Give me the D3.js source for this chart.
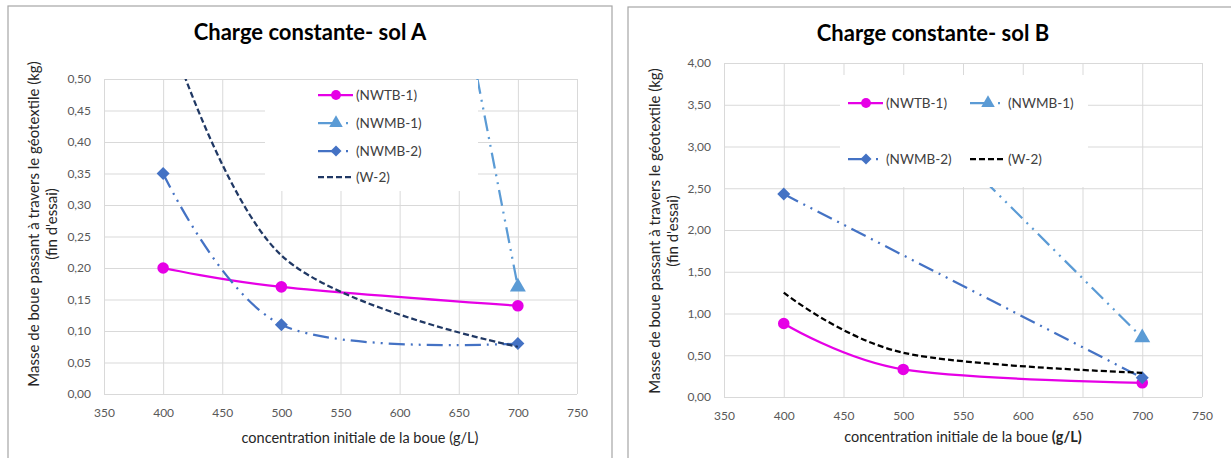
<!DOCTYPE html>
<html>
<head>
<meta charset="utf-8">
<script src="https://cdn.jsdelivr.net/npm/d3@7"></script>
<style>
  body { margin: 0; background: #fff; }
  svg { display: block; font-family: Lato, "Open Sans", sans-serif; }
</style>
</head>
<body>
<svg id="chart" width="1231" height="458"></svg>
<script>
"use strict";

/*
 * Data (missing points are null)
 */
var concentrations = [400, 500, 700];
var xTicks = [350, 400, 450, 500, 550, 600, 650, 700, 750];
var yTicksA = [0, 0.05, 0.10, 0.15, 0.20, 0.25, 0.30, 0.35, 0.40, 0.45, 0.50];
var yTicksB = [0, 0.5, 1, 1.5, 2, 2.5, 3, 3.5, 4];
var seriesNames = ["(NWTB-1)", "(NWMB-1)", "(NWMB-2)", "(W-2)"];

var solA_NWTB1 = [0.20, 0.17, 0.14];
var solA_NWMB1 = [null, 2.10, 0.17];
var solA_NWMB2 = [0.35, 0.11, 0.08];
var solA_W2    = [0.60, 0.22, 0.075];

var solB_NWTB1 = [0.88, 0.33, 0.17];
var solB_NWMB1 = [null, 3.56, 0.71];
var solB_NWMB2 = [2.43, null, 0.23];
var solB_W2    = [1.25, 0.53, 0.29];

var DASH_DOT_DOT = "16,6,2,6,2,6";

var svg = d3.select("#chart");

add(svg, {
	id: "a",
	title: "Charge constante- sol A",
	frame: [8, 6, 604, 480],
	plot: { l: 104, r: 577, t: 79, b: 394 },
	yMax: 0.5,
	yTicks: yTicksA,
	values: [solA_NWTB1, solA_NWMB1, solA_NWMB2, solA_W2],
	w2Color: "#203864",
	titlePos: [310, 32],
	yTitle: { x1: 34, x2: 52, cy: 224 },
	xTitle: [360, 438],
	boldUnit: false,
	legendBox: [265, 80, 213, 111],
	legendItems: [[318, 95], [318, 123], [318, 151], [318, 177]]
});

add(svg, {
	id: "b",
	title: "Charge constante- sol B",
	frame: [628, 7, 620, 480],
	plot: { l: 724, r: 1202, t: 63, b: 397 },
	yMax: 4,
	yTicks: yTicksB,
	values: [solB_NWTB1, solB_NWMB1, solB_NWMB2, solB_W2],
	w2Color: "#000000",
	titlePos: [933, 33],
	yTitle: { x1: 655, x2: 673, cy: 231 },
	xTitle: [963, 437],
	boldUnit: true,
	legendBox: [840, 75, 248, 112],
	legendItems: [[848, 103], [970, 103], [848, 159], [970, 159]]
});

/*
 * Draw one chart
 */
function add(svg, cfg) {

	var p = cfg.plot;
	var g = svg.append("g").attr("class", "chart-" + cfg.id);

	var x = d3.scaleLinear().domain([350, 750]).range([p.l, p.r]);
	var y = d3.scaleLinear().domain([0, cfg.yMax]).range([p.b, p.t]);
	var fmt = d3.format(".2f");

	// outer frame
	g.append("rect")
		.attr("x", cfg.frame[0]).attr("y", cfg.frame[1])
		.attr("width", cfg.frame[2]).attr("height", cfg.frame[3])
		.attr("fill", "#fff")
		.attr("stroke", "#a6a6a6")
		.attr("stroke-width", 1.2);

	// grid and tick labels
	var gx = g.append("g")
		.attr("transform", "translate(0," + p.b + ")")
		.call(d3.axisBottom(x).tickValues(xTicks).tickSize(-(p.b - p.t)).tickPadding(14).tickFormat(d3.format("d")));
	var gy = g.append("g")
		.attr("transform", "translate(" + p.l + ",0)")
		.call(d3.axisLeft(y).tickValues(cfg.yTicks).tickSize(-(p.r - p.l)).tickPadding(13)
			.tickFormat(function(d) { return fmt(d).replace(".", ","); }));

	[gx, gy].forEach(function(a) {
		a.select(".domain").remove();
		a.selectAll("line").attr("stroke", "#d9d9d9").attr("stroke-width", 1);
		a.selectAll("text").attr("fill", "#595959").style("font-size", "12px").style("font-family", "Lato, sans-serif");
	});

	// series
	var styles = [
		{ color: "#e600e6", dash: null, legendDash: null, marker: "circle" },
		{ color: "#5b9bd5", dash: DASH_DOT_DOT, legendDash: "22,6,2,6", marker: "triangle" },
		{ color: "#4472c4", dash: DASH_DOT_DOT, legendDash: "22,6,2,6", marker: "diamond" },
		{ color: cfg.w2Color, dash: "6,3", legendDash: "6,3", marker: null }
	];

	g.append("clipPath").attr("id", "clip-" + cfg.id)
		.append("rect")
		.attr("x", p.l).attr("y", p.t)
		.attr("width", p.r - p.l).attr("height", p.b - p.t + 8);

	var line = d3.line()
		.x(function(d) { return x(d.c); })
		.y(function(d) { return y(d.v); })
		.curve(d3.curveCardinal);

	var series = g.append("g").attr("clip-path", "url(#clip-" + cfg.id + ")");

	cfg.values.forEach(function(vals, i) {
		var pts = concentrations.map(function(c, k) { return { c: c, v: vals[k] }; })
			.filter(function(d) { return d.v != null; });
		var st = styles[i];

		series.append("path")
			.datum(pts)
			.attr("d", line)
			.attr("fill", "none")
			.attr("stroke", st.color)
			.attr("stroke-width", 2.25)
			.attr("stroke-dasharray", st.dash);

		if (st.marker) {
			series.selectAll(".m" + i)
				.data(pts)
				.enter().append("path")
				.attr("class", "m" + i)
				.attr("d", markerPath(st.marker, 1))
				.attr("transform", function(d) {
					return "translate(" + x(d.c) + "," + y(d.v) + ")" + (st.marker === "diamond" ? " rotate(45)" : "");
				})
				.attr("fill", st.color);
		}
	});

	// legend
	var lb = cfg.legendBox;
	g.append("rect")
		.attr("x", lb[0]).attr("y", lb[1])
		.attr("width", lb[2]).attr("height", lb[3])
		.attr("fill", "#fff");

	cfg.legendItems.forEach(function(pos, i) {
		var st = styles[i];
		var lg = g.append("g").attr("transform", "translate(" + pos[0] + "," + pos[1] + ")");
		lg.append("line")
			.attr("x1", 0).attr("x2", 35).attr("y1", 0).attr("y2", 0)
			.attr("stroke", st.color)
			.attr("stroke-width", 2.25)
			.attr("stroke-dasharray", st.legendDash);
		if (st.marker) {
			lg.append("path")
				.attr("d", markerPath(st.marker, 0.85))
				.attr("transform", "translate(18,0)" + (st.marker === "diamond" ? " rotate(45)" : ""))
				.attr("fill", st.color);
		}
		lg.append("text")
			.attr("x", 38).attr("y", 0).attr("dy", "0.35em")
			.attr("fill", "#404040")
			.style("font-size", "13.5px")
			.text(seriesNames[i]);
	});

	// titles
	g.append("text")
		.attr("x", cfg.titlePos[0]).attr("y", cfg.titlePos[1]).attr("dy", "0.35em")
		.attr("text-anchor", "middle")
		.attr("fill", "#000")
		.style("font-size", "22px").style("font-weight", "bold")
		.text(cfg.title);

	var xt = g.append("text")
		.attr("x", cfg.xTitle[0]).attr("y", cfg.xTitle[1]).attr("dy", "0.35em")
		.attr("text-anchor", "middle")
		.attr("fill", "#262626")
		.style("font-size", "14.5px");
	xt.append("tspan").text("concentration initiale de la boue ");
	xt.append("tspan").style("font-weight", cfg.boldUnit ? "bold" : "normal").text("(g/L)");

	g.append("text")
		.attr("transform", "translate(" + cfg.yTitle.x1 + "," + cfg.yTitle.cy + ") rotate(-90)")
		.attr("dy", "0.35em")
		.attr("text-anchor", "middle")
		.attr("fill", "#262626")
		.style("font-size", "15px")
		.text("Masse de boue passant \u00e0 travers le g\u00e9otextile (kg)");
	g.append("text")
		.attr("transform", "translate(" + cfg.yTitle.x2 + "," + cfg.yTitle.cy + ") rotate(-90)")
		.attr("dy", "0.35em")
		.attr("text-anchor", "middle")
		.attr("fill", "#262626")
		.style("font-size", "15px")
		.text("(fin d'essai)");
}

/*
 * Marker shapes
 */
function markerPath(type, k) {
	if (type === "circle") return d3.symbol(d3.symbolCircle, 105 * k * k)();
	if (type === "triangle") return d3.symbol(d3.symbolTriangle, 110 * k * k)();
	return d3.symbol(d3.symbolSquare, 85 * k * k)();
}
</script>
</body>
</html>
